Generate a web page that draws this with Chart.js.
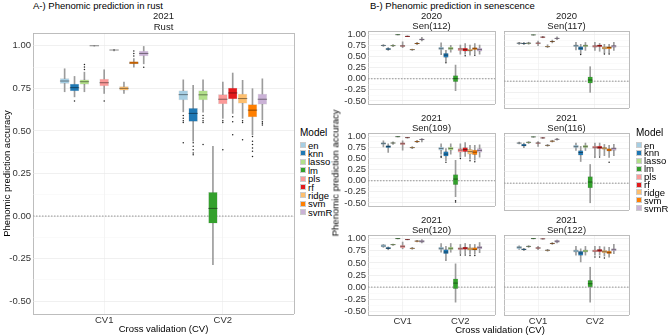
<!DOCTYPE html>
<html><head><meta charset="utf-8">
<script src="https://cdn.jsdelivr.net/npm/chart.js@4"></script>
<style>
body{margin:0;width:669px;height:335px;position:relative;background:#fff;overflow:hidden;font-family:"Liberation Sans",Arial,sans-serif}
canvas{position:absolute}
.t{position:absolute;white-space:nowrap;color:#000;font-size:9.5px;line-height:11px}
.key{position:absolute;width:4px;height:4px;outline:0.5px solid rgba(0,0,0,0.2)}
</style></head><body>
<script>
// ---------- data ----------
const MODELS = ['en','knn','lasso','lm','pls','rf','ridge','svm','svmR'];
const COLORS = ['#A6CEE3','#1F78B4','#B2DF8A','#33A02C','#FB9A99','#E31A1C','#FDBF6F','#FF7F00','#CAB2D6'];
const CV_LABELS = ['CV1','CV2'];
const Y_MAJOR = [-0.5,-0.25,0,0.25,0.5,0.75,1];
const Y_MINOR = [-0.375,-0.125,0.125,0.375,0.625,0.875];
const Y_LIMITS = [-0.575,1.075];
const X_LIMITS = [0.4,2.6];
const REF_Y = 0;
const DODGE = 0.75;

// five-number summaries per model: [lower whisker, q1, median, q3, upper whisker]
const RUST_CV1 = [[0.73,0.777,0.793,0.81,0.865],[0.70,0.733,0.754,0.777,0.82],[0.73,0.773,0.789,0.802,0.845],[0.998,0.999,1.0,1.0,1.0],[0.72,0.763,0.783,0.806,0.859],[0.97,0.973,0.975,0.977,0.979],[0.72,0.738,0.75,0.762,0.787],[0.874,0.891,0.899,0.909,0.925],[0.894,0.938,0.955,0.971,0.996]];
const RUST_CV2 = [[0.612,0.68,0.713,0.738,0.80],[0.44,0.554,0.603,0.635,0.767],[0.61,0.68,0.712,0.738,0.80],[-0.285,-0.043,0.045,0.141,0.409],[0.574,0.657,0.686,0.715,0.787],[0.603,0.686,0.723,0.754,0.84],[0.574,0.661,0.69,0.719,0.797],[0.477,0.58,0.622,0.657,0.748],[0.564,0.655,0.686,0.719,0.806]];
const RUST_OUT = [[1,1,0.676],[1,2,0.86],[1,2,0.875],[1,2,0.89],[1,4,0.676],[1,7,0.94],[1,7,0.955],[1,7,0.97],[1,8,0.874],
 [2,0,0.59],[2,0,0.575],[2,0,0.56],[2,0,0.55],[2,0,0.43],[2,1,0.43],[2,1,0.41],[2,1,0.39],[2,1,0.37],[2,1,0.36],
 [2,2,0.59],[2,2,0.575],[2,2,0.56],[2,2,0.55],[2,2,0.42],[2,4,0.56],[2,4,0.55],[2,4,0.39],[2,5,0.583],[2,5,0.554],[2,5,0.477],
 [2,6,0.56],[2,6,0.55],[2,6,0.448],[2,7,0.467],[2,7,0.44],[2,7,0.42],[2,7,0.40],[2,7,0.38],[2,7,0.35],[2,8,0.554],[2,8,0.545],[2,8,0.535]];

const S112_CV1 = [[0.73,0.74,0.75,0.755,0.77],[0.64,0.655,0.668,0.685,0.70],[0.72,0.74,0.745,0.75,0.77],[0.985,0.99,0.99,0.992,0.995],[0.70,0.725,0.74,0.755,0.83],[0.945,0.95,0.955,0.958,0.965],[0.64,0.65,0.656,0.665,0.67],[0.77,0.785,0.794,0.80,0.82],[0.85,0.87,0.885,0.90,0.93]];
const S112_CV2 = [[0.59,0.656,0.684,0.711,0.81],[0.38,0.478,0.533,0.574,0.64],[0.60,0.656,0.684,0.711,0.75],[-0.27,-0.065,0.003,0.072,0.31],[0.553,0.635,0.67,0.69,0.76],[0.553,0.62,0.656,0.69,0.79],[0.53,0.62,0.64,0.67,0.76],[0.553,0.656,0.684,0.70,0.79],[0.553,0.62,0.656,0.69,0.76]];
const S112_OUT = [[2,0,0.56],[2,1,0.36],[2,5,0.52],[2,7,0.53]];

const S117_CV1 = [[0.79,0.805,0.814,0.82,0.83],[0.78,0.80,0.808,0.815,0.83],[0.79,0.805,0.814,0.82,0.835],[0.985,0.99,0.99,0.992,0.995],[0.76,0.80,0.814,0.825,0.86],[0.93,0.94,0.945,0.95,0.96],[0.72,0.735,0.74,0.748,0.78],[0.82,0.84,0.85,0.86,0.88],[0.89,0.91,0.917,0.925,0.95]];
const S117_CV2 = [[0.67,0.74,0.76,0.78,0.83],[0.59,0.67,0.705,0.74,0.79],[0.66,0.74,0.76,0.78,0.83],[-0.24,-0.045,0.024,0.093,0.31],[0.66,0.725,0.75,0.766,0.83],[0.64,0.74,0.76,0.78,0.81],[0.60,0.684,0.71,0.74,0.79],[0.60,0.69,0.72,0.74,0.79],[0.66,0.725,0.753,0.77,0.83]];
const S117_OUT = [[2,1,0.57],[2,6,0.58],[2,7,0.58]];

const S109_CV1 = [[0.76,0.82,0.84,0.86,0.90],[0.64,0.746,0.773,0.794,0.83],[0.82,0.84,0.85,0.86,0.875],[0.985,0.99,0.99,0.992,0.995],[0.69,0.81,0.835,0.86,0.90],[0.96,0.965,0.97,0.973,0.98],[0.72,0.74,0.746,0.752,0.77],[0.86,0.875,0.88,0.89,0.91],[0.876,0.92,0.93,0.935,0.95]];
const S109_CV2 = [[0.60,0.69,0.725,0.76,0.83],[0.45,0.553,0.60,0.656,0.725],[0.60,0.69,0.725,0.76,0.83],[-0.36,-0.086,0.038,0.14,0.46],[0.53,0.643,0.69,0.725,0.83],[0.55,0.656,0.705,0.746,0.86],[0.485,0.60,0.656,0.71,0.80],[0.464,0.588,0.643,0.69,0.80],[0.53,0.643,0.684,0.725,0.81]];
const S109_OUT = [[2,0,0.55],[2,0,0.53],[2,1,0.415],[2,3,-0.45],[2,3,-0.48],[2,4,0.50],[2,6,0.45],[2,7,0.43]];

const S116_CV1 = [[0.84,0.85,0.86,0.865,0.88],[0.76,0.794,0.814,0.84,0.86],[0.85,0.865,0.876,0.88,0.89],[0.985,0.99,0.99,0.992,0.995],[0.79,0.845,0.86,0.87,0.89],[0.96,0.965,0.97,0.973,0.98],[0.79,0.80,0.81,0.815,0.83],[0.88,0.895,0.90,0.905,0.92],[0.92,0.935,0.94,0.945,0.96]];
const S116_CV2 = [[0.70,0.76,0.787,0.814,0.86],[0.464,0.60,0.656,0.70,0.79],[0.70,0.76,0.787,0.81,0.86],[-0.42,-0.10,0.024,0.14,0.40],[0.59,0.746,0.77,0.794,0.86],[0.59,0.74,0.766,0.794,0.86],[0.59,0.725,0.75,0.77,0.83],[0.55,0.684,0.71,0.74,0.81],[0.59,0.70,0.74,0.76,0.83]];
const S116_OUT = [[2,4,0.56],[2,5,0.56],[2,7,0.45]];

const S120_CV1 = [[0.82,0.828,0.848,0.876,0.88],[0.77,0.786,0.80,0.82,0.83],[0.86,0.87,0.876,0.88,0.89],[0.995,0.998,1.0,1.0,1.0],[0.79,0.81,0.84,0.86,0.93],[0.975,0.978,0.98,0.982,0.985],[0.78,0.795,0.80,0.805,0.82],[0.93,0.945,0.95,0.955,0.965],[0.91,0.924,0.945,0.965,0.98]];
const S120_CV2 = [[0.72,0.772,0.80,0.828,0.90],[0.586,0.69,0.724,0.772,0.84],[0.72,0.772,0.80,0.828,0.90],[-0.31,-0.034,0.083,0.17,0.48],[0.69,0.772,0.793,0.814,0.88],[0.69,0.78,0.807,0.828,0.90],[0.68,0.76,0.786,0.814,0.88],[0.68,0.76,0.78,0.814,0.88],[0.71,0.786,0.814,0.84,0.92]];
const S120_OUT = [[2,1,0.56],[2,4,0.66],[2,5,0.66],[2,6,0.65],[2,7,0.65]];

const S122_CV1 = [[0.78,0.79,0.82,0.84,0.85],[0.75,0.77,0.78,0.79,0.80],[0.82,0.83,0.84,0.845,0.855],[0.995,0.998,1.0,1.0,1.0],[0.77,0.795,0.807,0.82,0.84],[0.99,0.993,0.995,0.997,1.0],[0.74,0.752,0.76,0.768,0.78],[0.88,0.893,0.90,0.907,0.92],[0.91,0.924,0.945,0.965,0.97]];
const S122_CV2 = [[0.66,0.72,0.745,0.77,0.84],[0.52,0.655,0.703,0.74,0.79],[0.66,0.72,0.745,0.77,0.84],[-0.31,0.0,0.069,0.138,0.41],[0.66,0.724,0.745,0.77,0.84],[0.66,0.73,0.76,0.78,0.84],[0.64,0.703,0.73,0.76,0.83],[0.62,0.69,0.717,0.745,0.82],[0.69,0.745,0.772,0.793,0.88]];
const S122_OUT = [[2,4,0.62],[2,5,0.62],[2,6,0.60]];

// ---------- drawing ----------
const FONT = '"Liberation Sans", Arial, sans-serif';
const BORDER = '#b5b5b5';
const WHISK = '#9c9c9c';

function addText(txt, left, top, extra){
  const d=document.createElement('div'); d.className='t'; d.textContent=txt;
  d.style.left=left+'px'; d.style.top=top+'px';
  if(extra) Object.assign(d.style, extra);
  document.body.appendChild(d); return d;
}

function panel(o){
  const cv=document.createElement('canvas');
  const W=o.yW+o.w+1, H=o.stripH+o.h+o.xH;
  cv.width=W; cv.height=H;
  cv.style.left=(o.left-o.yW)+'px'; cv.style.top=(o.top-o.stripH)+'px';
  cv.style.width=W+'px'; cv.style.height=H+'px';
  document.body.appendChild(cv);
  const n=MODELS.length, step=DODGE/n;
  const off=m=>(m-(n-1)/2)*step;
  const groups=[o.cv1,o.cv2];
  const ds=[];
  ds.push({type:'line',data:[{x:X_LIMITS[0],y:REF_Y},{x:X_LIMITS[1],y:REF_Y}],borderColor:'#8a8a8a',borderWidth:0.9,borderDash:[1.5,1.5],pointRadius:0,order:9});
  MODELS.forEach((name,m)=>{
    ds.push({type:'bar',grouped:false,barThickness:1,order:3,backgroundColor:WHISK,borderWidth:0,
      data:groups.map((g,ci)=>({x:ci+1+off(m),y:[g[m][0],g[m][4]]}))});
    ds.push({type:'bar',grouped:false,barPercentage:o.boxPct,categoryPercentage:1,order:2,backgroundColor:COLORS[m],
      borderColor:'rgba(0,0,0,0.22)',borderWidth:0.5,borderSkipped:false,
      data:groups.map((g,ci)=>({x:ci+1+off(m),y:[g[m][1],g[m][3]]}))});
    ds.push({type:'scatter',order:1,pointStyle:'line',pointBorderColor:'rgba(0,0,0,0.45)',pointBorderWidth:1,
      pointRadius:c=>{const s=c.chart.scales.x;return Math.abs(s.getPixelForValue(1+step)-s.getPixelForValue(1))*o.boxPct/2;},
      data:groups.map((g,ci)=>({x:ci+1+off(m),y:g[m][2]}))});
  });
  ds.push({type:'scatter',order:0,pointRadius:0.75,pointBackgroundColor:'#222',pointBorderWidth:0,
    data:o.out.map(r=>({x:r[0]+off(r[1]),y:r[2]}))});
  const yTicks=[Y_LIMITS[0],...Y_MAJOR,...Y_MINOR,Y_LIMITS[1]].sort((a,b)=>a-b);
  const xTicks=[X_LIMITS[0],...CV_LABELS.map((c,i)=>i+1),X_LIMITS[1]];
  const isMajor=v=>Y_MAJOR.some(t=>Math.abs(t-v)<1e-9);
  const isEdgeY=v=>v===Y_LIMITS[0]||v===Y_LIMITS[1];
  const isEdgeX=v=>v===X_LIMITS[0]||v===X_LIMITS[1];
  new Chart(cv,{
    type:'bar',
    data:{datasets:ds},
    options:{
      responsive:false,animation:false,events:[],
      layout:{padding:{right:1}},
      plugins:{legend:{display:false},tooltip:{enabled:false},
        title:{display:true,text:o.strip,fullSize:false,color:'#1a1a1a',
          font:{family:FONT,size:9.5,weight:'normal',lineHeight:o.stripLH},padding:{top:o.stripPad,bottom:0}}},
      scales:{
        x:{type:'linear',min:X_LIMITS[0],max:X_LIMITS[1],offset:false,
          afterBuildTicks:s=>{s.ticks=xTicks.map(v=>({value:v}));},
          afterFit:s=>{s.height=o.xH;},
          ticks:{display:o.showX,autoSkip:false,maxRotation:0,padding:1,color:'#333',font:{family:FONT,size:9.5},
            callback:v=>{const k=Math.round(v);return (Math.abs(v-k)<1e-9&&k>=1&&k<=CV_LABELS.length)?CV_LABELS[k-1]:'';}},
          grid:{offset:false,drawTicks:false,color:c=>isEdgeX(c.tick.value)?BORDER:'#ececec',lineWidth:c=>isEdgeX(c.tick.value)?0.9:0.6},
          border:{display:false},
          title:{display:!!o.xTitle,text:o.xTitle||'',color:'#000',font:{family:FONT,size:9.5,lineHeight:1.2},padding:{top:0,bottom:0}}
        },
        y:{type:'linear',min:Y_LIMITS[0],max:Y_LIMITS[1],
          afterBuildTicks:s=>{s.ticks=yTicks.map(v=>({value:v}));},
          afterFit:s=>{s.width=o.yW;},
          ticks:{display:o.showY,autoSkip:false,padding:2,color:'#333',font:{family:FONT,size:9.5},
            callback:v=>isMajor(v)?v.toFixed(2):''},
          grid:{drawTicks:false,color:c=>isEdgeY(c.tick.value)?BORDER:(isMajor(c.tick.value)?'#e6e6e6':'#f3f3f3'),
            lineWidth:c=>isEdgeY(c.tick.value)?0.9:(isMajor(c.tick.value)?0.6:0.4)},
          border:{display:false},
          title:{display:!!o.yTitle,text:o.yTitle||'',color:'#000',font:{family:FONT,size:9.5,lineHeight:1.2},padding:{top:2,bottom:0}}
        }
      }
    }
  });
}

function legend(left, top, spacing){
  addText('Model', left, top-5.5, {fontSize:'10px'});
  MODELS.forEach((name,m)=>{
    const y=top+13+m*spacing;
    const k=document.createElement('div'); k.className='key';
    k.style.left=(left+1)+'px'; k.style.top=(y-2)+'px'; k.style.background=COLORS[m];
    document.body.appendChild(k);
    addText(name, left+8, y-5.5, {lineHeight:'11px'});
  });
}

// titles
addText('A-) Phenomic prediction in rust', 33, 0);
addText('B-) Phenomic prediction in senescence', 370, 0);

// panel A
panel({left:33,top:33,w:264,h:281,yW:33,xH:21,stripH:22,stripLH:'11px',stripPad:0,showX:true,showY:true,boxPct:0.95,
  strip:['2021','Rust'],cv1:RUST_CV1,cv2:RUST_CV2,out:RUST_OUT,
  yTitle:'Phenomic prediction accuracy',xTitle:'Cross validation (CV)'});
legend(300,132,8.4);

// panel B
const B_PANELS=[
  {strip:['2020','Sen(112)'],cv1:S112_CV1,cv2:S112_CV2,out:S112_OUT},
  {strip:['2020','Sen(117)'],cv1:S117_CV1,cv2:S117_CV2,out:S117_OUT},
  {strip:['2021','Sen(109)'],cv1:S109_CV1,cv2:S109_CV2,out:S109_OUT},
  {strip:['2021','Sen(116)'],cv1:S116_CV1,cv2:S116_CV2,out:S116_OUT},
  {strip:['2021','Sen(120)'],cv1:S120_CV1,cv2:S120_CV2,out:S120_OUT},
  {strip:['2021','Sen(122)'],cv1:S122_CV1,cv2:S122_CV2,out:S122_OUT}
];
const COL_L=[368,501], COL_W=[130,131], ROW_T=[31,133,235];
B_PANELS.forEach((p,i)=>{
  const c=i%2, r=Math.floor(i/2), last=r===2;
  panel(Object.assign({left:COL_L[c],top:ROW_T[r],w:COL_W[c],h:80,yW:c===0?30:1,xH:last?20:1,
    stripH:23,stripLH:'10px',stripPad:3,showX:last,showY:c===0,boxPct:1},p));
});
addText('Phenomic prediction accuracy', 335, 173, {transform:'translate(-50%,-50%) rotate(-90deg)'});
addText('Cross validation (CV)', 500, 323.5, {transform:'translateX(-50%)'});
legend(636,132,7.9);
</script>
</body></html>
